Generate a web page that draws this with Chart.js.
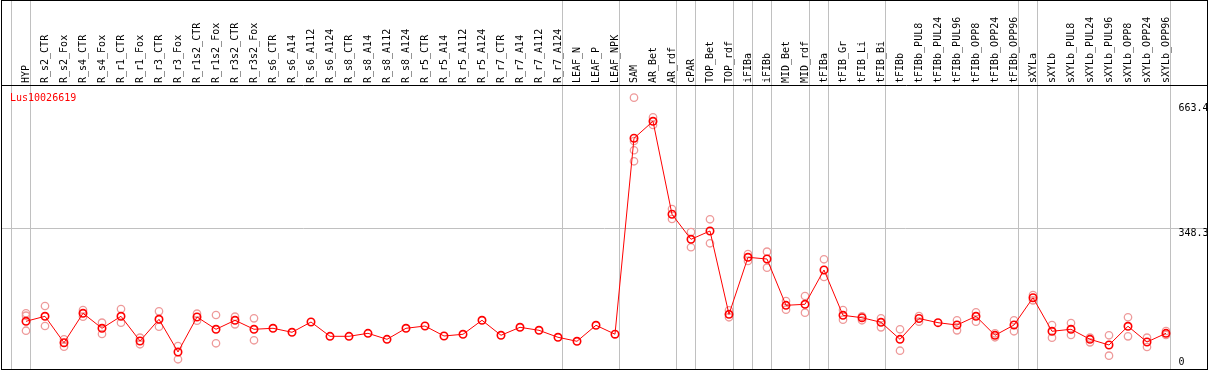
<!DOCTYPE html>
<html>
<head>
<meta charset="utf-8">
<script src="https://cdn.jsdelivr.net/npm/chart.js@4.4.1/dist/chart.umd.min.js"></script>
<style>
  body { margin: 0; background: #fff; }
  #wrap { width: 1209px; height: 370px; }
</style>
</head>
<body>
<div id="wrap"><canvas id="chart" width="1209" height="370"></canvas></div>
<script>
const geneName = 'Lus10026619';

const samples = [
  'HYP', 'R_s2_CTR', 'R_s2_Fox', 'R_s4_CTR', 'R_s4_Fox', 'R_r1_CTR', 'R_r1_Fox',
  'R_r3_CTR', 'R_r3_Fox', 'R_r1s2_CTR', 'R_r1s2_Fox', 'R_r3s2_CTR', 'R_r3s2_Fox',
  'R_s6_CTR', 'R_s6_A14', 'R_s6_A112', 'R_s6_A124', 'R_s8_CTR', 'R_s8_A14',
  'R_s8_A112', 'R_s8_A124', 'R_r5_CTR', 'R_r5_A14', 'R_r5_A112', 'R_r5_A124',
  'R_r7_CTR', 'R_r7_A14', 'R_r7_A112', 'R_r7_A124', 'LEAF_N', 'LEAF_P', 'LEAF_NPK',
  'SAM', 'AR_Bet', 'AR_rdf', 'cPAR', 'TOP_Bet', 'TOP_rdf', 'iFIBa', 'iFIBb',
  'MID_Bet', 'MID_rdf', 'tFIBa', 'tFIB_Gr', 'tFIB_Li', 'tFIB_Bi', 'tFIBb',
  'tFIBb_PUL8', 'tFIBb_PUL24', 'tFIBb_PUL96', 'tFIBb_OPP8', 'tFIBb_OPP24', 'tFIBb_OPP96',
  'sXYLa', 'sXYLb', 'sXYLb_PUL8', 'sXYLb_PUL24', 'sXYLb_PUL96', 'sXYLb_OPP8',
  'sXYLb_OPP24', 'sXYLb_OPP96'
];

// mean expression per sample
const means = [
  112.7, 125.4, 58.5, 133.0, 95.0, 125.4, 62.8, 117.8, 35.0, 123.6, 92.5, 115.3, 92.5,
  95.0, 84.9, 110.9, 74.7, 74.7, 82.3, 67.1, 95.0, 100.8, 75.5, 79.8, 115.3,
  77.3, 97.5, 89.9, 72.2, 62.1, 102.6, 80.0,
  576.3, 619.3, 383.8, 320.4, 341.4, 130.4, 274.8, 270.5, 153.2, 155.8, 242.7,
  127.9, 121.8, 110.2, 67.1, 119.8, 109.2, 103.3, 125.4, 77.3, 103.3,
  172.5, 87.4, 92.5, 67.1, 52.7, 100.1, 60.3, 82.3
];

// single replicates (pale circles), same order as samples
const replicates = [
  [133.0, 126.9, 88.9], [151.5, 100.8], [67.1, 48.4], [141.3, 124.4], [109.2, 80.5],
  [143.9, 109.2], [71.2, 54.5], [138.0, 99.0], [50.2, 16.5], [132.0, 114.2],
  [128.7, 57.0], [124.4, 105.1], [120.3, 64.6],
  [], [], [], [], [], [], [], [], [], [], [], [], [], [], [], [], [], [], [],
  [679.1, 569.4, 545.9, 518.0], [629.5, 609.9], [397.2, 371.8], [338.9, 300.2],
  [371.1, 310.3], [140.6, 122.9], [283.2, 265.5], [289.0, 248.5], [164.1, 142.1],
  [176.8, 134.5], [269.8, 224.9], [141.3, 116.8], [125.4, 115.3], [120.3, 97.5],
  [92.5, 38.2], [126.1, 111.7], [], [115.3, 89.9], [135.5, 111.7], [82.3, 72.2],
  [115.3, 87.4], [179.3, 165.9], [103.3, 71.2], [108.4, 78.0], [71.2, 59.5],
  [77.3, 25.6], [122.9, 74.7], [71.2, 47.6], [88.1, 78.0]
];

const yTickValues = [0, 348.3, 663.4];

// index of the last sample of each group, a grey divider follows it
const groupEnds = [-1, 0, 28, 31, 34, 35, 37, 38, 39, 41, 42, 45, 52, 53, 60];

const meanPoints = means.map((v, i) => ({ x: i, y: v }));
const repPoints = [];
replicates.forEach((list, i) => list.forEach(v => repPoints.push({ x: i, y: v })));

const monoFont = { family: '"DejaVu Sans Mono", monospace', size: 10, lineHeight: 1 };

const xMin = -1.2632, xMax = 62.158;

// stop the axes from reserving side padding for their labels
const noPad = (scale) => {
  scale.paddingLeft = 0;
  scale.paddingRight = 0;
};

const overlayPlugin = {
  id: 'overlay',
  afterDraw(chart) {
    const ctx = chart.ctx;
    const area = chart.chartArea;
    const yScale = chart.scales.y;
    ctx.save();
    ctx.font = '10px "DejaVu Sans Mono", monospace';
    ctx.textBaseline = 'alphabetic';
    ctx.textAlign = 'left';
    ctx.fillStyle = '#000';
    yTickValues.forEach(v => {
      const py = Math.min(yScale.getPixelForValue(v) + 7.5, area.bottom - 4.5);
      ctx.fillText(String(v), 1178.5, py);
    });
    ctx.fillStyle = '#ff0000';
    ctx.fillText(geneName, 10, 101);
    ctx.strokeStyle = '#000';
    ctx.lineWidth = 1;
    ctx.strokeRect(1.5, 0.5, 1206, 369);
    ctx.restore();
  }
};

new Chart(document.getElementById('chart'), {
  type: 'line',
  data: {
    datasets: [
      {
        data: meanPoints,
        borderColor: '#ff0000',
        borderWidth: 1,
        pointStyle: 'circle',
        pointRadius: 3.7,
        pointBorderWidth: 1.6,
        pointBorderColor: '#ff0000',
        pointBackgroundColor: 'rgba(0,0,0,0)',
        tension: 0,
        order: 0
      },
      {
        data: repPoints,
        showLine: false,
        pointStyle: 'circle',
        pointRadius: 3.7,
        pointBorderWidth: 1.3,
        pointBorderColor: '#ee9a9a',
        pointBackgroundColor: 'rgba(0,0,0,0)',
        order: 1
      }
    ]
  },
  options: {
    responsive: false,
    animation: false,
    devicePixelRatio: 1,
    layout: { autoPadding: false, padding: { left: 2, right: 2, top: 0, bottom: 1 } },
    plugins: {
      legend: { display: false },
      tooltip: { enabled: false }
    },
    scales: {
      x: {
        type: 'linear',
        position: 'top',
        weight: 1,
        min: xMin,
        max: xMax,
        grid: { display: false, drawTicks: false },
        border: { display: false },
        afterBuildTicks: (scale) => {
          scale.ticks = samples.map((s, i) => ({ value: i }));
        },
        afterFit: (scale) => { scale.height = 85; noPad(scale); },
        ticks: {
          autoSkip: false,
          minRotation: 90,
          maxRotation: 90,
          padding: 2,
          labelOffset: 10,
          color: '#000',
          font: monoFont,
          callback: (value) => samples[Math.round(value)]
        }
      },
      x2: {
        type: 'linear',
        position: 'top',
        weight: 0,
        min: xMin,
        max: xMax,
        afterBuildTicks: (scale) => {
          scale.ticks = groupEnds.map(i => ({ value: i + 0.24 }));
        },
        afterFit: (scale) => { scale.height = 0; noPad(scale); },
        grid: { color: '#c0c0c0', lineWidth: 1, drawTicks: true, tickLength: 85 },
        border: { display: true, color: '#000', width: 1 },
        ticks: { display: false }
      },
      y: {
        type: 'linear',
        position: 'right',
        min: -8.1,
        max: 711.2,
        afterBuildTicks: (scale) => {
          scale.ticks = yTickValues.map(v => ({ value: v }));
        },
        afterFit: (scale) => { scale.width = 0; noPad(scale); },
        grid: {
          drawTicks: false,
          color: (c) => (c.tick && c.tick.value === 348.3 ? '#c0c0c0' : 'rgba(0,0,0,0)')
        },
        border: { display: false },
        ticks: { display: false }
      }
    }
  },
  plugins: [overlayPlugin]
});
</script>
</body>
</html>
